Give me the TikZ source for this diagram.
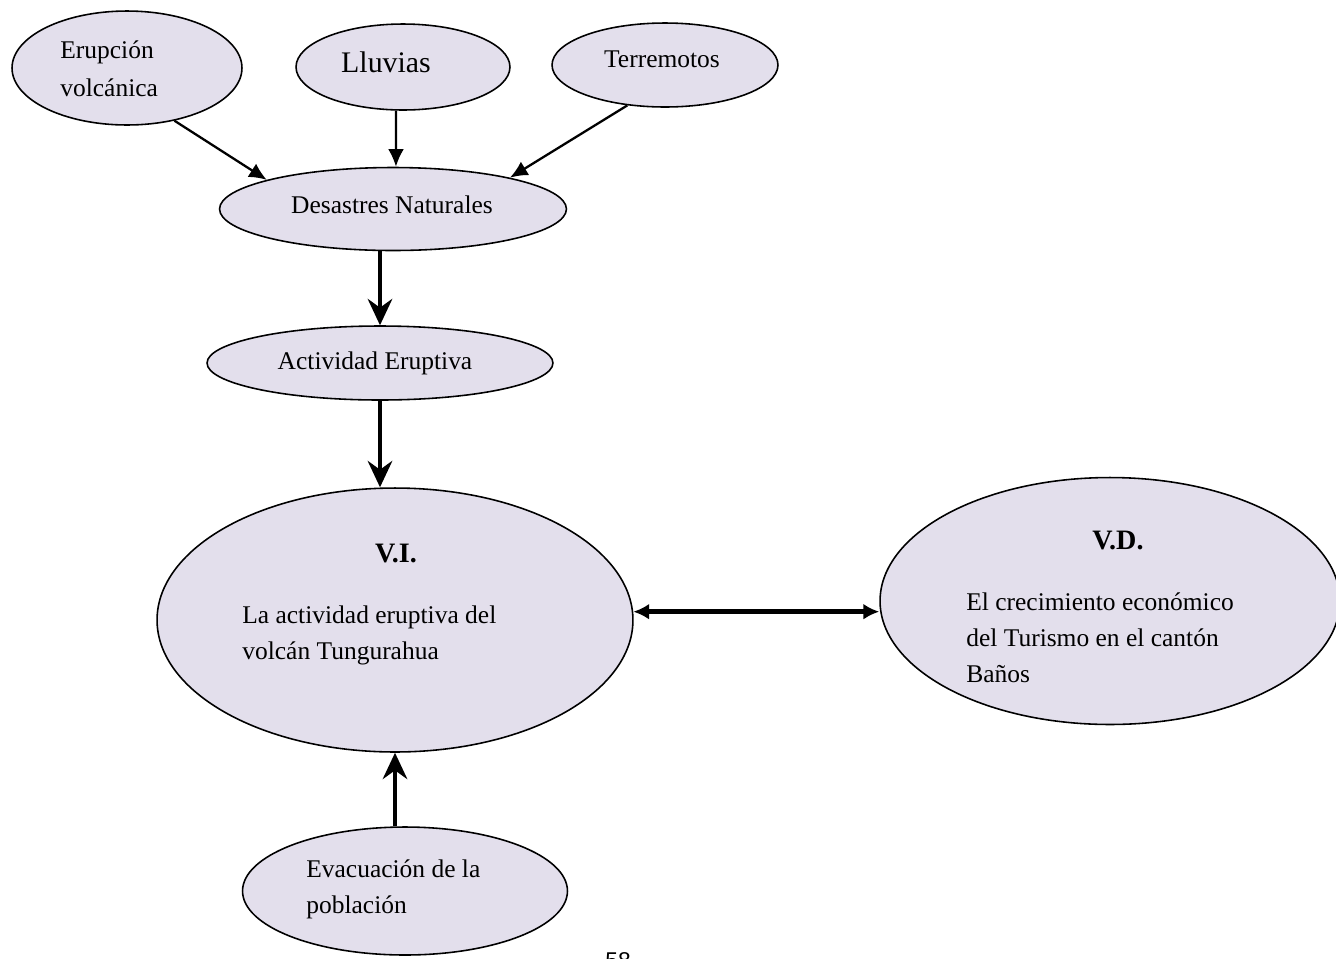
\documentclass[tikz,border=0pt]{standalone}
\usepackage{fontspec}
\setmainfont{Liberation Serif}
\newfontfamily\pagenumfont{Liberation Sans}
\usetikzlibrary{shapes.geometric}
\usetikzlibrary{arrows.meta}
\definecolor{mlilac}{RGB}{227,223,236}

\tikzset{
  bubble/.style={ellipse, draw, fill=mlilac, line width=0.9pt, inner sep=0pt},
  txt/.style={font=\fontsize{14.5}{20.5}\selectfont, inner sep=0pt, align=left},
  arr/.style={-{Latex[length=10pt,width=9pt]}, line width=1.3pt},
  bigarr/.style={-{Stealth[length=15pt,width=14pt,inset=5pt]}, line width=2pt},
  duoarr/.style={{Latex[length=9pt,width=9pt]}-{Latex[length=9pt,width=9pt]}, line width=2.5pt},
}

\begin{document}
\begin{tikzpicture}[x=0.02cm, y=0.02cm]
    \useasboundingbox (0, 0) rectangle (1336, -958);

    \node [bubble, minimum width=4.6cm, minimum height=2.28cm] (erupcion) at (127, -68) {};
    \node [bubble, minimum width=4.28cm, minimum height=1.72cm] (lluvias) at (403, -67) {};
    \node [bubble, minimum width=4.52cm, minimum height=1.68cm] (terremotos) at (665, -65) {};
    \node [bubble, minimum width=6.94cm, minimum height=1.66cm] (desastres) at (393, -209) {};
    \node [bubble, minimum width=6.92cm, minimum height=1.48cm] (actividad) at (380, -363) {};
    \node [bubble, minimum width=9.52cm, minimum height=5.28cm] (vi) at (395, -620) {};
    \node [bubble, minimum width=9.2cm, minimum height=4.94cm] (vd) at (1110, -601) {};
    \node [bubble, minimum width=6.5cm, minimum height=2.56cm] (evacuacion) at (405, -891) {};

    \node [txt, anchor=west, font=\fontsize{14.5}{21.6}\selectfont] (erupciontxt) at (60, -69) {Erupción\\volcánica};
    \node [txt, font=\fontsize{17}{20}\selectfont] (lluviastxt) at (386, -62) {Lluvias};
    \node [txt] (terremotostxt) at (662, -59) {Terremotos};
    \node [txt] (desastrestxt) at (392, -205) {Desastres Naturales};
    \node [txt] (actividadtxt) at (375, -363) {Actividad Eruptiva};

    \node [txt, font=\fontsize{16}{20}\selectfont\bfseries] (vititle) at (396, -553) {V.I.};
    \node [txt, anchor=west] (vitxt) at (242, -635) {La actividad eruptiva del\\volcán Tungurahua};
    \node [txt, font=\fontsize{16}{20}\selectfont\bfseries] (vdtitle) at (1118, -540) {V.D.};
    \node [txt, anchor=west] (vdtxt) at (966, -638) {El crecimiento económico\\del Turismo en el cantón\\Baños};
    \node [txt, anchor=west] (evacuaciontxt) at (306, -889) {Evacuación de la\\población};

    \node [anchor=north, inner sep=0pt, font=\pagenumfont\fontsize{13}{15}\selectfont] (pagenum) at (618, -952) {58};

    \draw [arr] (erupcion.-48) -- (desastres.167);
    \draw [arr] (lluvias.-99) -- (desastres.86);
    \draw [arr] (terremotos.-133) -- (desastres.15);

    \draw [bigarr] (desastres.south -| actividad.north) -- (actividad.north);
    \draw [bigarr] (actividad.south) -- (actividad.south |- vi.north);
    \draw [bigarr] (evacuacion.north -| vi.south) -- (vi.south);

    \draw [duoarr] (vi.2) -- (vi.2 -| vd.west);
\end{tikzpicture}
\end{document}
